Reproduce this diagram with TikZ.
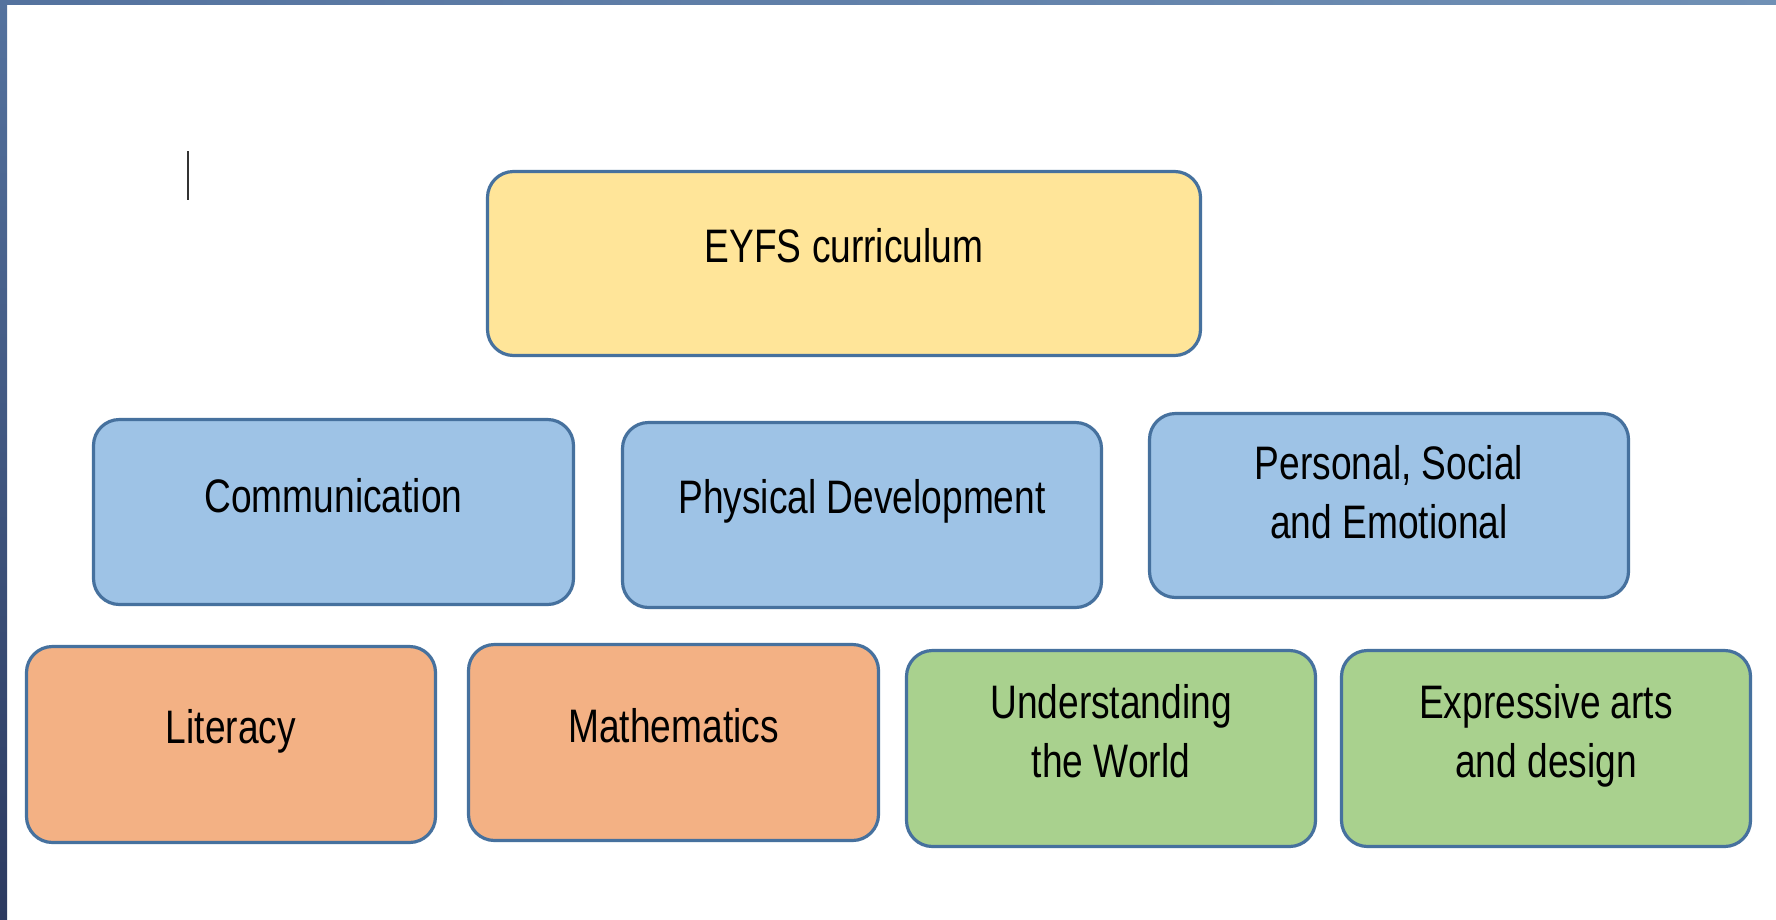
\documentclass[tikz,border=0pt]{standalone}
\usepackage{fontspec}
\newfontfamily\boxfont[FakeStretch=0.79]{Liberation Sans}
\definecolor{edgeblue}{RGB}{70,113,158}
\definecolor{yellowfill}{RGB}{255,229,153}
\definecolor{bluefill}{RGB}{158,195,230}
\definecolor{orangefill}{RGB}{243,177,132}
\definecolor{greenfill}{RGB}{169,209,142}
\definecolor{stripA}{RGB}{84,114,158}
\definecolor{stripB}{RGB}{112,144,181}
\definecolor{stripC}{RGB}{44,58,96}
\tikzset{
  box/.style={draw=edgeblue, line width=3.2pt, rounded corners=26pt, inner sep=0pt, rectangle},
  txt/.style={font=\boxfont\fontsize{47}{59}\selectfont, align=center, inner sep=0pt, anchor=north, text=black}
}
\begin{document}
\begin{tikzpicture}[x=1pt,y=-1pt]
\useasboundingbox (0,0) rectangle (1776,919);
\fill[white] (0,0) rectangle (1776,919);
\shade[left color=stripA, right color=stripB] (0,0) rectangle (1776,4);
\shade[top color=stripA, bottom color=stripC] (0,0) rectangle (7,919);
\draw[line width=2pt, black!80] (188,151) -- (188,200);

\node[box, fill=yellowfill, minimum width=713pt, minimum height=184pt] (eyfs) at (844,263.5) {};
\node[box, fill=bluefill, minimum width=480pt, minimum height=185pt] (comm) at (333.5,512) {};
\node[box, fill=bluefill, minimum width=479pt, minimum height=185pt] (phys) at (862,515) {};
\node[box, fill=bluefill, minimum width=479pt, minimum height=184pt] (pse) at (1389,505.5) {};
\node[box, fill=orangefill, minimum width=409pt, minimum height=196pt] (lit) at (231,744.5) {};
\node[box, fill=orangefill, minimum width=410pt, minimum height=196pt] (math) at (673.5,742.5) {};
\node[box, fill=greenfill, minimum width=409pt, minimum height=196pt] (und) at (1111,748.5) {};
\node[box, fill=greenfill, minimum width=409pt, minimum height=196pt] (exp) at (1546,748.5) {};

\node[txt] (eyfst) at (844,228) {EYFS curriculum};
\node[txt] (commt) at (333.5,478) {Communication};
\node[txt] (physt) at (862,479) {Physical Development};
\node[txt] (pset) at (1389,445) {Personal, Social\\and Emotional};
\node[txt] (litt) at (231,709) {Literacy};
\node[txt] (matht) at (673.5,708) {Mathematics};
\node[txt] (undt) at (1111,684) {Understanding\\the World};
\node[txt] (expt) at (1546,684) {Expressive arts\\and design};
\end{tikzpicture}
\end{document}
